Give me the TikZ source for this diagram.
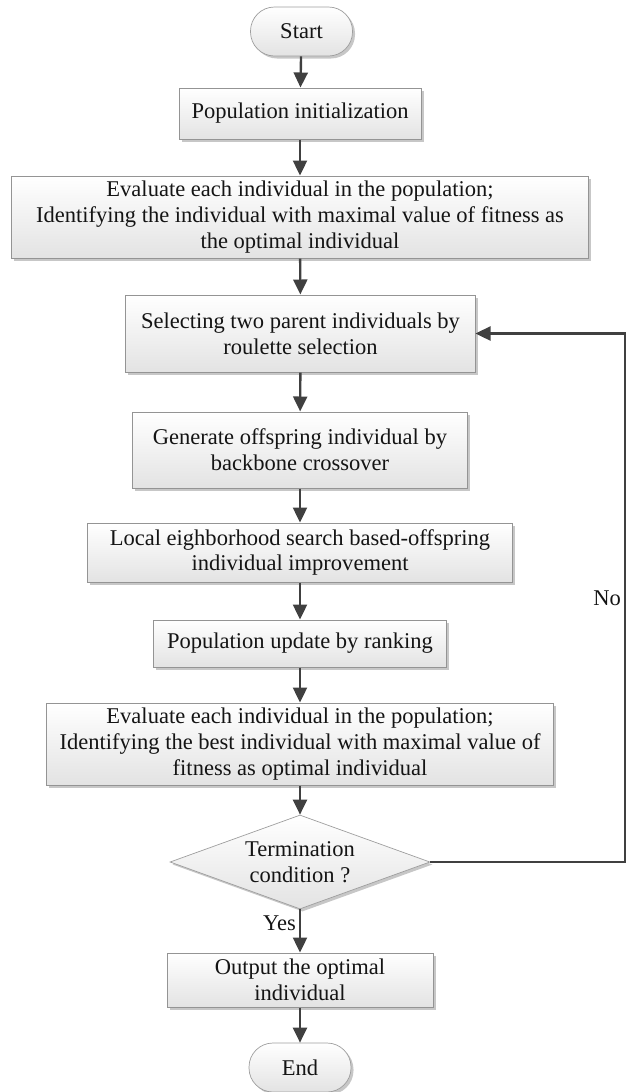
\documentclass[tikz,border=0pt]{standalone}
\usepackage{fontspec}
\setmainfont{Liberation Serif}
\usetikzlibrary{shapes.geometric,shadows,arrows.meta}

\begin{document}
\begin{tikzpicture}[x=1bp,y=1bp,
  every node/.style={font=\fontsize{22.6}{26}\selectfont, text=black!92},
  shade/.style={top color=white, bottom color=black!11},
  shadowed/.style={drop shadow={shadow xshift=2.5bp, shadow yshift=-2.5bp, opacity=0.22, fill=black}},
  box/.style={rectangle, draw=black!42, line width=1bp, shade, shadowed,
    align=center, inner sep=0pt},
  term/.style={rectangle, rounded corners=24bp, draw=black!38, line width=0.7bp,
    shade, shadowed, align=center, inner sep=0pt,
    minimum width=102bp, minimum height=49bp},
  decision/.style={diamond, draw=black!38, line width=0.7bp, shade, shadowed,
    align=center, inner sep=0pt, shape aspect=2.77,
    minimum width=260bp, minimum height=94bp},
  flow/.style={draw=black!75, line width=2.4bp,
    -{Triangle[length=15bp,width=14bp]}},
  lbl/.style={inner sep=3bp}
]
\useasboundingbox (0,0) rectangle (633,-1092);

% process steps, top to bottom
\node[term] (start) at (301.5,-31.5) {Start};
\node[box, minimum width=242bp, minimum height=51bp] (init) at (300,-113.5)
  {Population initialization};
\node[box, minimum width=576bp, minimum height=82bp] (eval1) at (300,-217)
  {Evaluate each individual in the population;\\
   Identifying the individual with maximal value of fitness as\\
   the optimal individual};
\node[box, minimum width=349bp, minimum height=77bp] (select) at (300.5,-333.5)
  {Selecting two parent individuals by\\ roulette selection};
\node[box, minimum width=334bp, minimum height=76bp] (gen) at (300,-450)
  {Generate offspring individual by\\ backbone crossover};
\node[box, minimum width=424bp, minimum height=59bp] (local) at (300,-552.5)
  {Local eighborhood search based-offspring\\ individual improvement};
\node[box, minimum width=292bp, minimum height=47bp] (update) at (300,-643.5)
  {Population update by ranking};
\node[box, minimum width=506bp, minimum height=82bp] (eval2) at (300,-744)
  {Evaluate each individual in the population;\\
   Identifying the best individual with maximal value of\\
   fitness as optimal individual};
\node[decision] (cond) at (300,-862) {Termination\\ condition ?};
\node[box, minimum width=266bp, minimum height=54bp] (out) at (300,-980)
  {Output the optimal\\ individual};
\node[term] (end) at (300,-1067.5) {End};

% main flow
\draw[flow] (start) -- (init);
\draw[flow] (init) -- (eval1);
\draw[flow] (eval1) -- (select);
\draw[flow] (select) -- (gen);
\draw[flow] (gen) -- (local);
\draw[flow] (local) -- (update);
\draw[flow] (update) -- (eval2);
\draw[flow] (eval2) -- (cond);
\draw[flow] (cond.south) -- node[lbl, pos=0.33, anchor=east] {Yes} (out.north);
\draw[flow] (out) -- (end);

% loop back when the termination condition is not met
\coordinate (loopR) at (625,-862);
\draw[flow] (cond.east) -- (loopR) |- node[lbl, pos=0.25, anchor=east] {No} (select.east);
\end{tikzpicture}
\end{document}
